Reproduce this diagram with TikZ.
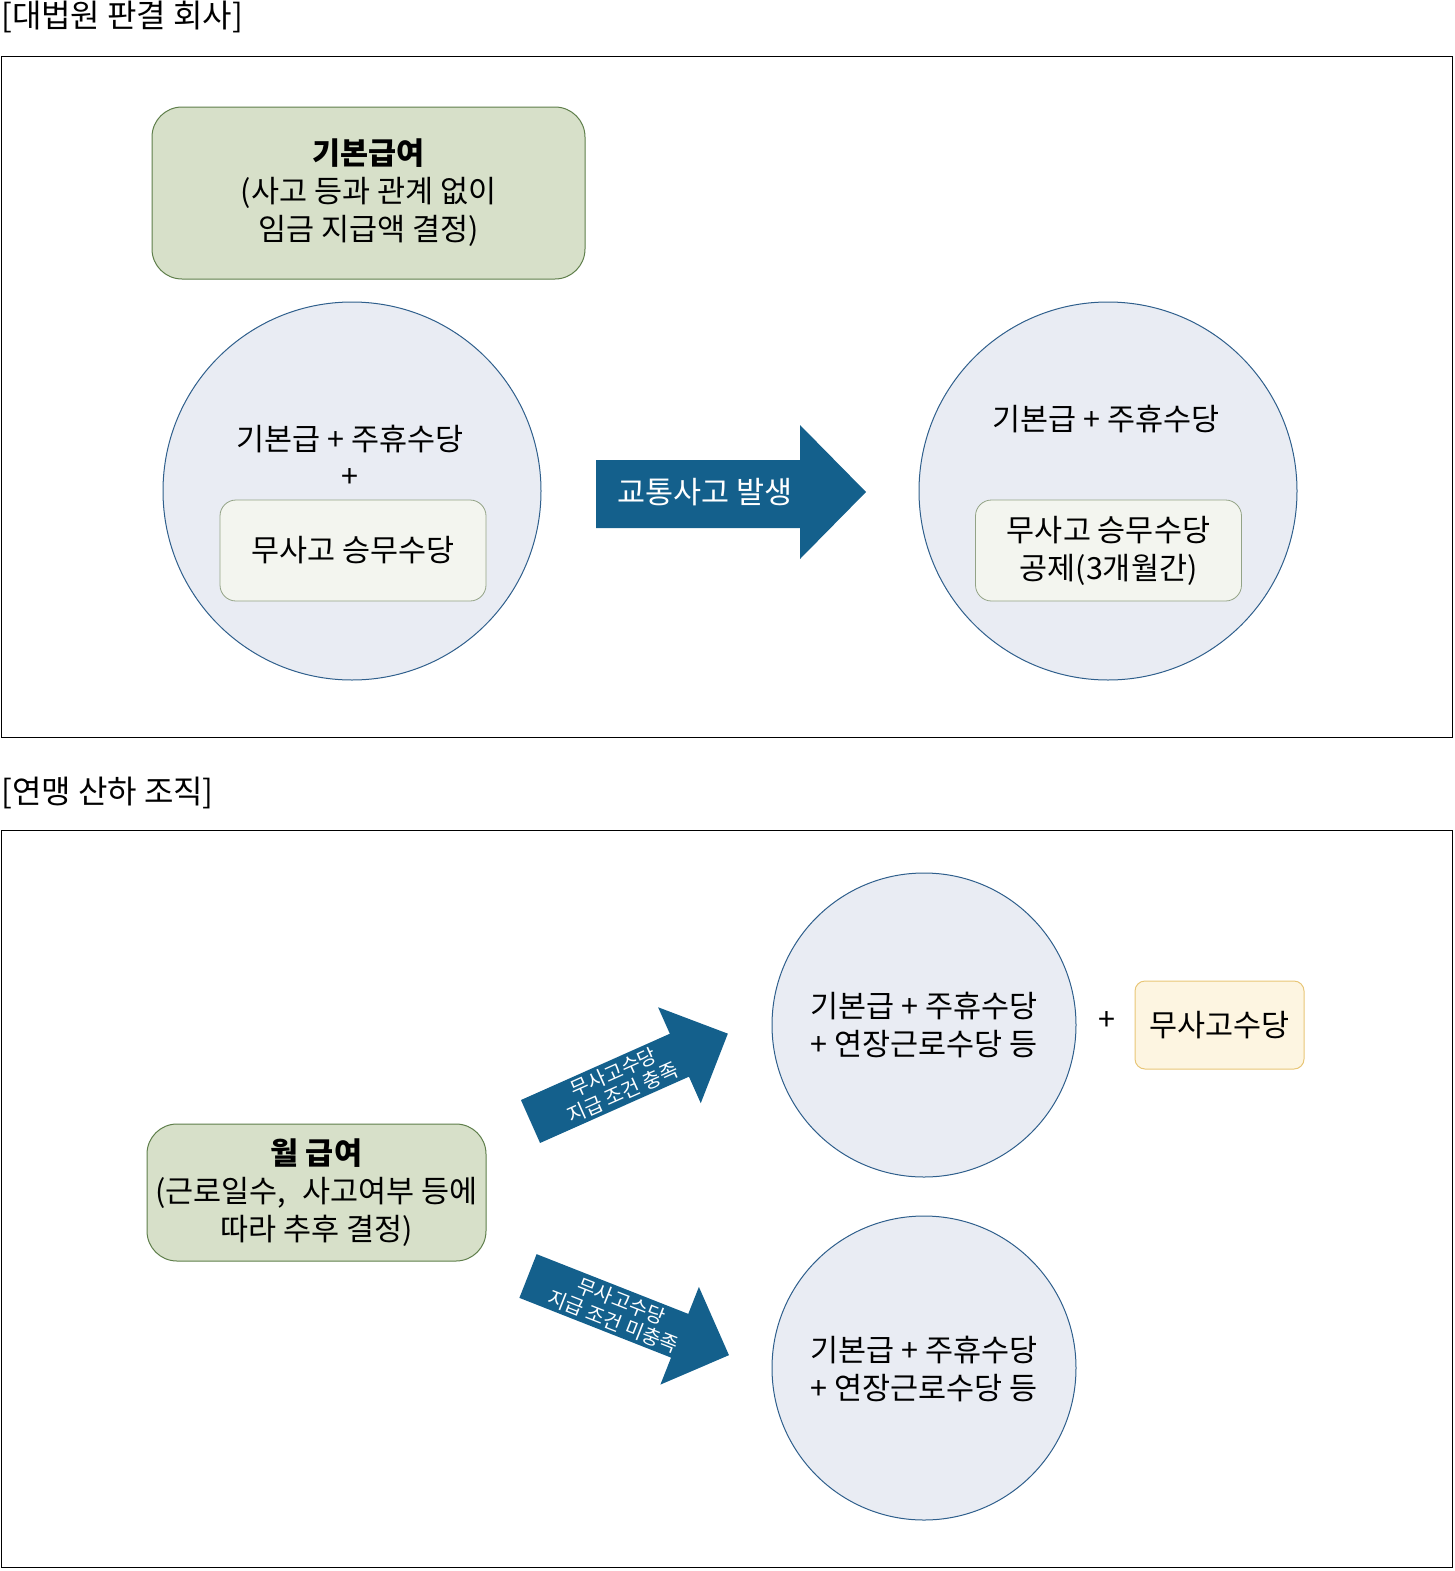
\documentclass[tikz,border=0pt]{standalone}
\usepackage{fontspec}
\setmainfont{Noto Sans CJK KR}
\definecolor{arrowblue}{HTML}{14608C}
\definecolor{circfill}{HTML}{E9ECF3}
\definecolor{circdraw}{HTML}{2F5F8C}
\definecolor{greenfill}{HTML}{D7E0C9}
\definecolor{greendraw}{HTML}{5E7E4A}
\definecolor{innerfill}{HTML}{F3F5EF}
\definecolor{innerdraw}{HTML}{93A386}
\definecolor{yelfill}{HTML}{FDF5E1}
\definecolor{yeldraw}{HTML}{E8C677}
\begin{document}
\begin{tikzpicture}[x=1pt,y=-1pt,
  txt/.style={font=\fontsize{30.5}{38}\selectfont, align=center, inner sep=0pt},
  small/.style={font=\fontsize{20}{22}\selectfont, align=center, inner sep=0pt, text=white},
  titletxt/.style={font=\fontsize{32}{36}\selectfont, anchor=west, inner sep=0pt},
  frame/.style={draw=black, line width=1pt},
  greenbox/.style={draw=greendraw, fill=greenfill, line width=1pt, rounded corners=30pt, align=center, font=\fontsize{30.5}{38}\selectfont},
  circ/.style={circle, draw=circdraw, fill=circfill, line width=1pt, inner sep=0pt},
  innerbox/.style={draw=innerdraw, fill=innerfill, line width=0.8pt, rounded corners=16pt, align=center, font=\fontsize{30.5}{38}\selectfont},
  yelbox/.style={draw=yeldraw, fill=yelfill, line width=1pt, rounded corners=10pt, align=center, font=\fontsize{30.5}{38}\selectfont},
  blockarrow/.style={fill=arrowblue}
]
\path[use as bounding box] (0,0) rectangle (1455,1571);

% ---------- top section ----------
\node[titletxt] (t1) at (1,17) {[대법원 판결 회사]};
\draw[frame] (1,57) rectangle (1452,737);

\node[greenbox, minimum width=433pt, minimum height=172pt] (g1) at (368.5,193)
  {\textbf{기본급여}\\(사고 등과 관계 없이\\임금 지급액 결정)};

\node[circ, minimum size=378pt] (c1) at (352,491) {};
\node[txt] (c1a) at (350,439) {기본급 + 주휴수당};
\node[txt] (c1b) at (350,478) {+};
\node[innerbox, minimum width=266pt, minimum height=101pt] (i1) at (353,550.5) {무사고 승무수당};

\fill[blockarrow] (596,460) -- (800,460) -- (800,425) -- (866,492) -- (800,559) -- (800,528) -- (596,528) -- cycle;
\node[txt, text=white] (a1) at (705,492) {교통사고 발생};

\node[circ, minimum size=378pt] (c2) at (1108,491) {};
\node[txt] (c2a) at (1106,419) {기본급 + 주휴수당};
\node[innerbox, minimum width=266pt, minimum height=101pt] (i2) at (1108.5,550.5) {무사고 승무수당\\공제(3개월간)};

% ---------- bottom section ----------
\node[titletxt] (t2) at (1,793) {[연맹 산하 조직]};
\draw[frame] (1,830) rectangle (1452,1567);

\node[greenbox, minimum width=339pt, minimum height=137pt] (g2) at (316.5,1192.5)
  {\textbf{월 급여}\\(근로일수,\hspace{0.3em} 사고여부 등에\\따라 추후 결정)};

\begin{scope}[shift={(530.5,1121.5)}, rotate=24]
  \fill[blockarrow] (0,-23.5) -- (163,-23.5) -- (163,-52.5) -- (216,0) -- (163,52.5) -- (163,23.5) -- (0,23.5) -- cycle;
  \node[small, rotate=24] (a2) at (96,0) {무사고수당\\지급 조건 충족};
\end{scope}

\begin{scope}[shift={(528,1276)}, rotate=-21.5]
  \fill[blockarrow] (0,-23.5) -- (163,-23.5) -- (163,-52.5) -- (216,0) -- (163,52.5) -- (163,23.5) -- (0,23.5) -- cycle;
  \node[small, rotate=-21.5] (a3) at (96,0) {무사고수당\\지급 조건 미충족};
\end{scope}

\node[circ, minimum size=304pt] (c3) at (924,1025) {};
\node[txt] (c3a) at (924,1024.5) {기본급 + 주휴수당\\+ 연장근로수당 등};
\node[txt] (plus) at (1107,1021) {+};
\node[yelbox, minimum width=169pt, minimum height=88pt] (y1) at (1219.5,1025) {무사고수당};

\node[circ, minimum size=304pt] (c4) at (924,1368) {};
\node[txt] (c4a) at (924,1368.5) {기본급 + 주휴수당\\+ 연장근로수당 등};
\end{tikzpicture}
\end{document}
